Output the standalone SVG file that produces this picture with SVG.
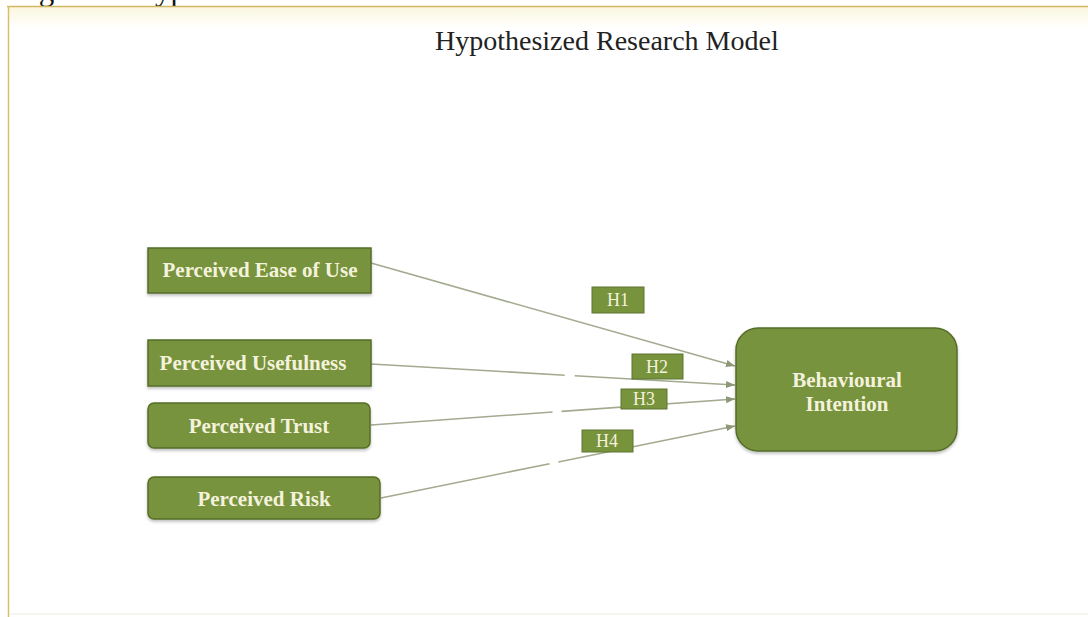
<svg xmlns="http://www.w3.org/2000/svg" width="1088" height="617" viewBox="0 0 1088 617">
<defs>
<linearGradient id="topfade" x1="0" y1="0" x2="0" y2="1">
<stop offset="0" stop-color="#FAF6DC"/>
<stop offset="1" stop-color="#FFFFFF"/>
</linearGradient>
<marker id="arr" viewBox="0 0 10 10" refX="10" refY="5" markerWidth="9" markerHeight="9" markerUnits="userSpaceOnUse" orient="auto">
<path d="M0,1 L10,5 L0,9 Z" fill="#8E9878"/>
</marker>
<filter id="sh" x="-10%" y="-20%" width="120%" height="150%">
<feDropShadow dx="0" dy="2" stdDeviation="1.5" flood-color="#000" flood-opacity="0.25"/>
</filter>
</defs>
<style>
.box{fill:#77933C;stroke:#566D28;stroke-width:1.5;filter:url(#sh)}
.lbl{fill:#77933C;stroke:#5E7530;stroke-width:1}
.nt{font-family:"Liberation Serif","Times New Roman",serif;font-weight:bold;font-size:21px;fill:#F4F2DC;text-anchor:middle}
.ht{font-family:"Liberation Serif","Times New Roman",serif;font-size:18px;fill:#F4F2DC;text-anchor:middle}
.ln{stroke:#A2AA90;stroke-width:1.6;fill:none;marker-end:url(#arr)}
</style>
<rect width="1088" height="617" fill="#FFFFFF"/>
<text x="13" y="0" font-family="Liberation Serif, Times New Roman, serif" font-size="31" fill="#111">Figure 1. Hypothesized Research Model</text>
<rect x="8" y="6" width="1080" height="22" fill="url(#topfade)"/>
<line x1="7" y1="6.5" x2="1088" y2="6.5" stroke="#D2B864" stroke-width="1.5"/>
<line x1="8.5" y1="6" x2="8.5" y2="617" stroke="#D9BE6A" stroke-width="1.5"/>
<line x1="9" y1="614" x2="1088" y2="614" stroke="#EEF3EA" stroke-width="1.5"/>
<text x="435" y="50" font-family="Liberation Serif, Times New Roman, serif" font-size="28" fill="#222">Hypothesized Research Model</text>
<g id="connectors">
<line class="ln" x1="371" y1="263" x2="735" y2="366"/>
<line class="ln" x1="371" y1="364" x2="735" y2="385" stroke-dasharray="194 10 1000"/>
<line class="ln" x1="371" y1="425" x2="735" y2="399" stroke-dasharray="182 9 1000"/>
<line class="ln" x1="381" y1="498" x2="735" y2="426" stroke-dasharray="172 9 1000"/>
</g>
<g id="peou">
<rect class="box" x="148" y="248" width="223" height="45"/>
<text class="nt" x="260" y="277">Perceived Ease of Use</text>
</g>
<g id="pu">
<rect class="box" x="148" y="340" width="223" height="46"/>
<text class="nt" x="253" y="370">Perceived Usefulness</text>
</g>
<g id="pt">
<rect class="box" x="148" y="403" width="222" height="45" rx="6"/>
<text class="nt" x="259" y="433">Perceived Trust</text>
</g>
<g id="pr">
<rect class="box" x="148" y="477" width="232" height="42" rx="6"/>
<text class="nt" x="264" y="506">Perceived Risk</text>
</g>
<g id="bi">
<rect class="box" x="736" y="328" width="221" height="123" rx="22"/>
<text class="nt" x="847" y="387">Behavioural</text>
<text class="nt" x="847" y="411">Intention</text>
</g>
<g id="h1">
<rect class="lbl" x="592" y="287" width="52" height="26"/>
<text class="ht" x="618" y="306">H1</text>
</g>
<g id="h2">
<rect class="lbl" x="632" y="354" width="51" height="25"/>
<text class="ht" x="657" y="373">H2</text>
</g>
<g id="h3">
<rect class="lbl" x="621" y="389" width="46" height="20"/>
<text class="ht" x="644" y="405">H3</text>
</g>
<g id="h4">
<rect class="lbl" x="582" y="430" width="51" height="22"/>
<text class="ht" x="607" y="447">H4</text>
</g>
</svg>
